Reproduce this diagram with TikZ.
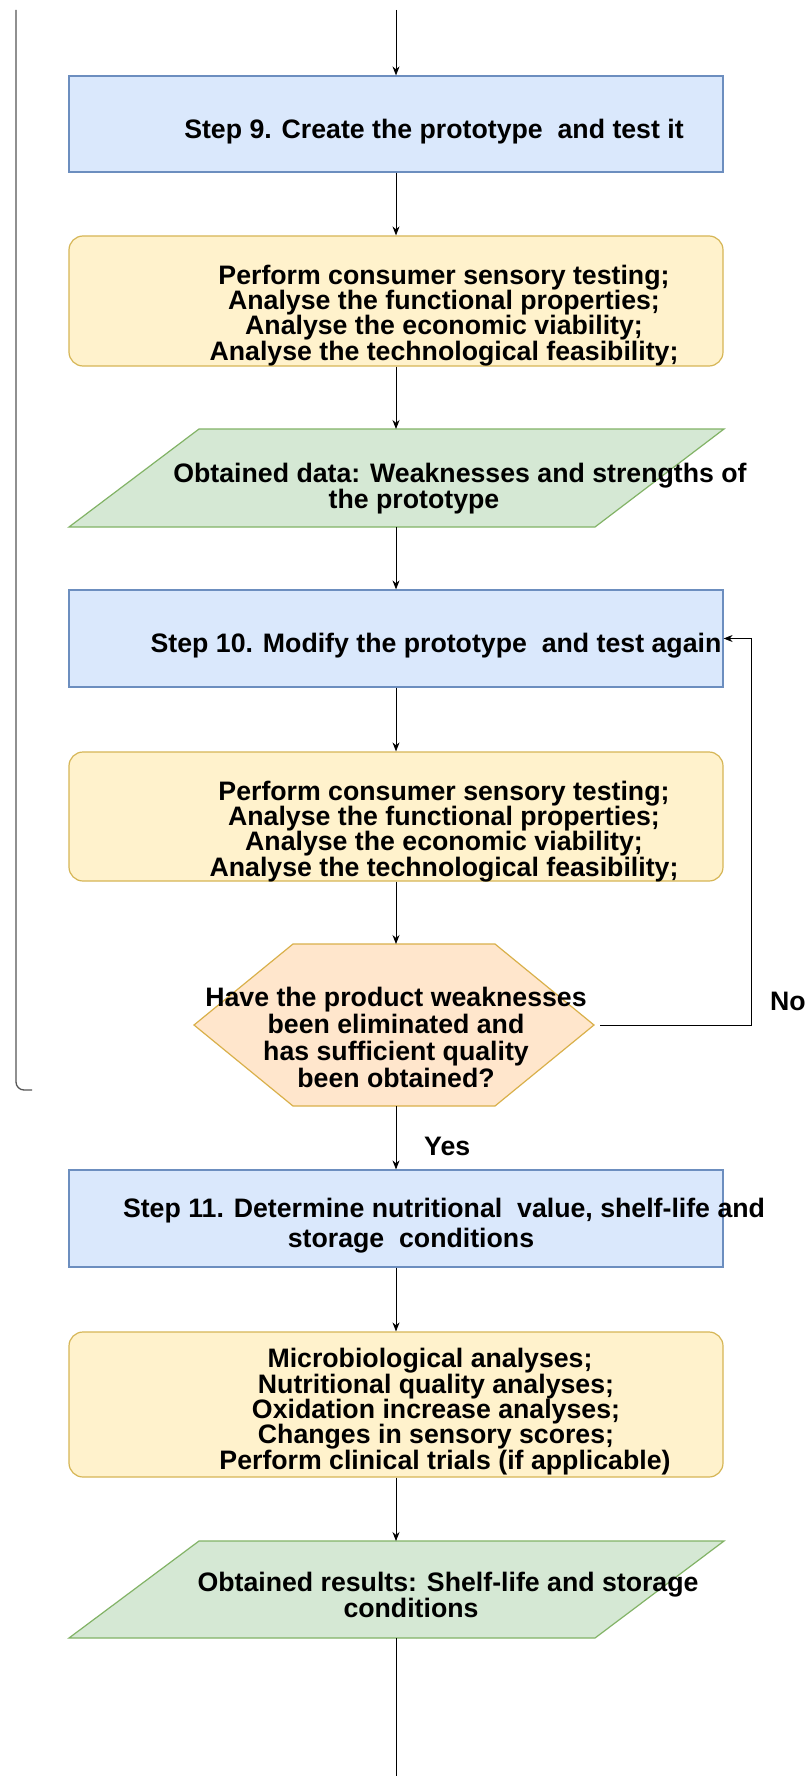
\documentclass[tikz,border=0pt]{standalone}
\usepackage{fontspec}
\setmainfont{Liberation Sans}
\usetikzlibrary{arrows.meta,calc}
\definecolor{bfill}{HTML}{DAE8FC}
\definecolor{bdraw}{HTML}{6C8EBF}
\definecolor{yfill}{HTML}{FFF2CC}
\definecolor{ydraw}{HTML}{D6B656}
\definecolor{gfill}{HTML}{D5E8D4}
\definecolor{gdraw}{HTML}{82B366}
\definecolor{ofill}{HTML}{FFE6CC}
\definecolor{odraw}{HTML}{D9B04A}
\definecolor{brk}{HTML}{555555}
\begin{document}
\begin{tikzpicture}[x=1pt,y=-1pt,
  stepbox/.style={draw=bdraw, fill=bfill, line width=1.2pt, minimum width=654pt, inner sep=0pt},
  taskbox/.style={draw=ydraw, fill=yfill, line width=1.2pt, rounded corners=14pt, minimum width=654pt, inner sep=0pt},
  parabox/.style={draw=gdraw, fill=gfill, line width=1.2pt},
  hexbox/.style={draw=odraw, fill=ofill, line width=1.2pt},
  lbl/.style={font=\fontsize{26.7pt}{25.3pt}\selectfont\bfseries, align=center, inner sep=0pt, anchor=base},
  arr/.style={-{Stealth[length=9pt,width=7pt]}, line width=0.9pt},
  plain/.style={line width=0.9pt}
]
\useasboundingbox (0,0) rectangle (808,1776);
\fill[white] (0,0) rectangle (808,1776);

% left bracket
\coordinate (brtop) at (16,10);
\coordinate (brend) at (32,1090);
\draw[brk, line width=1.3pt, rounded corners=8pt] (brtop) |- (brend);

% boxes
\node[stepbox, minimum height=96pt] (s9) at (396,124) {};
\node[taskbox, minimum height=130pt] (y1) at (396,301) {};
\draw[parabox] (199,429) -- (724,429) -- (595,527) -- (69,527) -- cycle;
\coordinate (p1top) at (396,429);
\coordinate (p1bot) at (396,527);
\node[stepbox, minimum height=97pt] (s10) at (396,638.5) {};
\node[taskbox, minimum height=129pt] (y2) at (396,816.5) {};
\draw[hexbox] (194,1025) -- (293,944) -- (495,944) -- (594,1025) -- (495,1106) -- (293,1106) -- cycle;
\coordinate (hxtop) at (396,944);
\coordinate (hxbot) at (396,1106);
\coordinate (hxright) at (600,1025);
\node[stepbox, minimum height=97pt] (s11) at (396,1218.5) {};
\node[taskbox, minimum height=145pt] (y3) at (396,1404.5) {};
\draw[parabox] (199,1541) -- (724,1541) -- (595,1638) -- (69,1638) -- cycle;
\coordinate (p2top) at (396,1541);
\coordinate (p2bot) at (396,1638);

% texts (anchor = baseline of the last line)
\node[lbl] (t9) at (434,139) {Step 9. Create the prototype\ \ and test it};
\node[lbl] (ty1) at (444,360) {Perform consumer sensory testing;\\Analyse the functional properties;\\Analyse the economic viability;\\Analyse the technological feasibility;};
\node[lbl] (tp1) at (460,508) {Obtained data: Weaknesses and strengths of\\the prototype\hspace*{92pt}};
\node[lbl] (t10) at (436,652) {Step 10. Modify the prototype\ \ and test again};
\node[lbl] (ty2) at (444,876) {Perform consumer sensory testing;\\Analyse the functional properties;\\Analyse the economic viability;\\Analyse the technological feasibility;};
\node[lbl, font=\fontsize{26.7pt}{26.9pt}\selectfont\bfseries] (thx) at (396,1087) {Have the product weaknesses\\been eliminated and\\has sufficient quality\\been obtained?};
\node[lbl, anchor=base west] (yes) at (424,1155) {Yes};
\node[lbl, anchor=base west] (no) at (770,1010) {No};
\node[lbl, font=\fontsize{26.7pt}{30pt}\selectfont\bfseries] (t11) at (444,1247) {Step 11. Determine nutritional\ \ value, shelf-life and\\storage\ \ conditions\hspace*{66pt}};
\node[lbl] (ty3) at (436,1469) {Microbiological analyses;\hspace*{12pt}\\Nutritional quality analyses;\\Oxidation increase analyses;\\Changes in sensory scores;\\\hspace*{18pt}Perform clinical trials (if applicable)};
\node[lbl] (tp2) at (448,1617) {Obtained results: Shelf-life and storage\\conditions\hspace*{74pt}};

% connectors
\coordinate (topin) at (396,10);
\coordinate (noturn) at (751,1025);
\coordinate (bottomend) at (396,1776);
\draw[arr] (topin) -- (s9.north);
\draw[arr] (s9.south) -- (y1.north);
\draw[arr] (y1.south) -- (p1top);
\draw[arr] (p1bot) -- (s10.north);
\draw[arr] (s10.south) -- (y2.north);
\draw[arr] (y2.south) -- (hxtop);
\draw[arr] (hxright) -- (noturn) |- (s10.east);
\draw[arr] (hxbot) -- (s11.north);
\draw[arr] (s11.south) -- (y3.north);
\draw[arr] (y3.south) -- (p2top);
\draw[plain] (p2bot) -- (bottomend);
\end{tikzpicture}
\end{document}
